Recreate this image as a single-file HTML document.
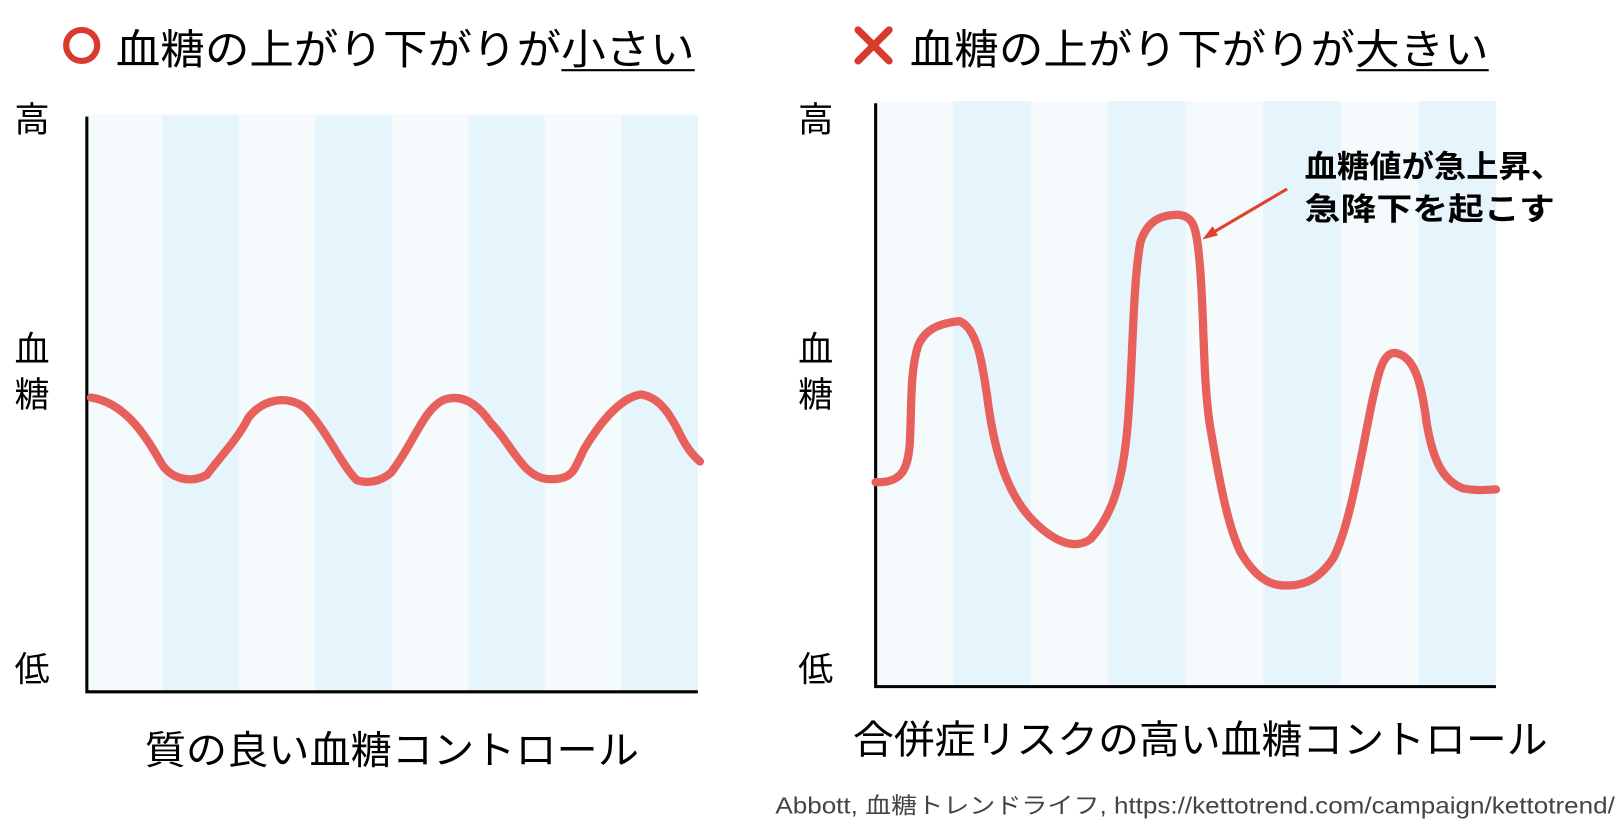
<!DOCTYPE html>
<html><head><meta charset="utf-8"><style>
html,body{margin:0;padding:0;background:#fff;}
svg{display:block;}
text{font-family:"Liberation Sans","Noto Sans CJK JP",sans-serif;}
</style></head><body>
<svg width="1620" height="826" viewBox="0 0 1567 800" preserveAspectRatio="none" xmlns="http://www.w3.org/2000/svg">
<!-- left stripes -->
<g>
<rect x="83" y="111" width="74" height="559" fill="#f5fafd"/>
<rect x="157" y="111" width="74" height="559" fill="#e6f4fb"/>
<rect x="231" y="111" width="74" height="559" fill="#f5fafd"/>
<rect x="305" y="111" width="74" height="559" fill="#e6f4fb"/>
<rect x="379" y="111" width="74" height="559" fill="#f5fafd"/>
<rect x="453" y="111" width="74" height="559" fill="#e6f4fb"/>
<rect x="527" y="111" width="74" height="559" fill="#f5fafd"/>
<rect x="601" y="111" width="74" height="559" fill="#e6f4fb"/>
</g>
<path d="M84 113 V670 H675" fill="none" stroke="#000" stroke-width="3"/>
<!-- right stripes -->
<g>
<rect x="847" y="98" width="75" height="567" fill="#f5fafd"/>
<rect x="922" y="98" width="75" height="567" fill="#e6f4fb"/>
<rect x="997" y="98" width="75" height="567" fill="#f5fafd"/>
<rect x="1072" y="98" width="75" height="567" fill="#e6f4fb"/>
<rect x="1147" y="98" width="75" height="567" fill="#f5fafd"/>
<rect x="1222" y="98" width="75" height="567" fill="#e6f4fb"/>
<rect x="1297" y="98" width="75" height="567" fill="#f5fafd"/>
<rect x="1372" y="98" width="75" height="567" fill="#e6f4fb"/>
</g>
<path d="M847 100 V665 H1447" fill="none" stroke="#000" stroke-width="3"/>

<!-- titles -->
<circle cx="79" cy="44" r="15" fill="none" stroke="#d93a2e" stroke-width="6"/>
<text x="112" y="62" font-size="40" textLength="560" lengthAdjust="spacingAndGlyphs">血糖の上がり下がりが小さい</text>
<line x1="543" y1="68" x2="672" y2="68" stroke="#000" stroke-width="2"/>
<g stroke="#d93a2e" stroke-width="7" stroke-linecap="round"><line x1="830" y1="29" x2="860" y2="59"/><line x1="860" y1="29" x2="830" y2="59"/></g>
<text x="880" y="62" font-size="40" textLength="560" lengthAdjust="spacingAndGlyphs">血糖の上がり下がりが大きい</text>
<line x1="1312" y1="68" x2="1440" y2="68" stroke="#000" stroke-width="2"/>

<!-- axis labels -->
<g font-size="34">
<text x="14" y="128">高</text><text x="14" y="350">血</text><text x="14" y="394">糖</text><text x="14" y="660">低</text>
<text x="772" y="128">高</text><text x="772" y="350">血</text><text x="772" y="394">糖</text><text x="772" y="660">低</text>
</g>

<!-- curves -->
<path d="M88 385 C120 390,140 420,155 447 C165 465,185 468,200 460 C215 440,230 425,240 405 C255 385,280 383,295 395 C315 415,330 450,345 465 C360 470,372 463,378 458 C400 430,410 395,430 387 C445 382,460 388,475 410 C495 430,505 462,530 464 C555 465,555 455,565 435 C580 410,600 385,620 382 C640 385,650 405,660 425 C668 440,675 445,677 447" fill="none" stroke="#e8605c" stroke-width="8" stroke-linecap="round" stroke-linejoin="round"/>
<path d="M847 467 C872 468,878 455,880 430 C882 395,880 360,888 335 C895 318,910 313,928 311 C945 318,950 350,955 385 C962 440,975 480,1000 505 C1020 525,1040 533,1055 522 C1075 500,1085 470,1090 420 C1096 360,1095 280,1103 235 C1110 212,1125 208,1140 208 C1155 210,1157 220,1160 250 C1165 300,1163 360,1170 410 C1180 470,1188 510,1200 535 C1212 555,1225 568,1245 567 C1265 567,1278 558,1290 540 C1305 510,1315 450,1325 400 C1333 360,1338 340,1350 342 C1368 345,1375 370,1380 410 C1386 445,1395 465,1415 473 C1430 476,1440 474,1447 474" fill="none" stroke="#e8605c" stroke-width="8" stroke-linecap="round" stroke-linejoin="round"/>

<!-- arrow annotation -->
<line x1="1245" y1="183" x2="1172" y2="226" stroke="#e0402c" stroke-width="3"/>
<polygon points="1163,232 1173,219 1178,228" fill="#e0402c"/>
<g font-size="30" font-weight="bold">
<text x="1262" y="172" textLength="250" lengthAdjust="spacingAndGlyphs">血糖値が急上昇、</text>
<text x="1262" y="213" textLength="242" lengthAdjust="spacingAndGlyphs">急降下を起こす</text>
</g>

<!-- bottom labels -->
<text x="140" y="740" font-size="38" textLength="478" lengthAdjust="spacingAndGlyphs">質の良い血糖コントロール</text>
<text x="825" y="730" font-size="38" textLength="672" lengthAdjust="spacingAndGlyphs">合併症リスクの高い血糖コントロール</text>
<text x="750" y="788" font-size="22" fill="#444" textLength="812" lengthAdjust="spacingAndGlyphs">Abbott, 血糖トレンドライフ, https://kettotrend.com/campaign/kettotrend/</text>
</svg>
</body></html>
